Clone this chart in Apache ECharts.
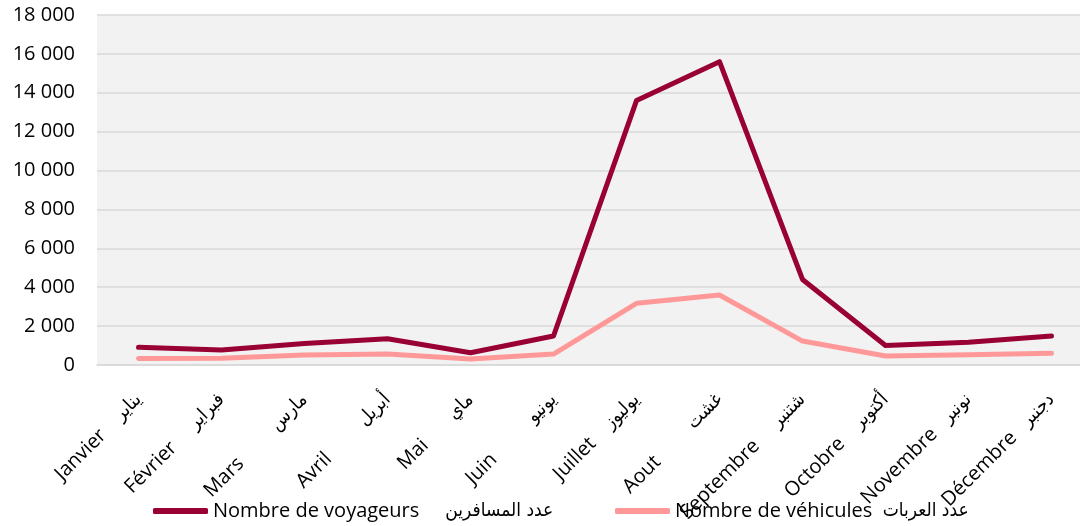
<!DOCTYPE html>
<html>
<head>
<meta charset="utf-8">
<script src="https://cdn.jsdelivr.net/npm/echarts@6/dist/echarts.min.js"></script>
<style>
  html, body { margin: 0; padding: 0; background: #fff; }
  #chart { width: 1080px; height: 526px; }
</style>
</head>
<body>
<div id="chart"></div>
<script>
// mois (français + arabe), les espaces reproduisent l'écart du libellé d'origine
const categories = [
  'Janvier    يناير',
  'Février     فبراير',
  'Mars         مارس',
  'Avril         أبريل',
  'Mai       ماي',
  'Juin          يونيو',
  'Juillet    يوليوز',
  'Aout         غشت',
  'Septembre     شتنبر',
  'Octobre    أكتوبر',
  'Novembre   نونبر',
  'Décembre   دجنبر'
];
const voyageurs = [910, 770, 1100, 1350, 630, 1490, 13600, 15600, 4400, 1000, 1170, 1490];
const vehicules = [340, 350, 510, 560, 310, 560, 3170, 3600, 1230, 460, 530, 600];
const nomVoyageurs = 'Nombre de voyageurs     عدد المسافرين';
const nomVehicules = 'Nombre de véhicules  عدد العربات';

const font = '"Open Sans", "DejaVu Sans", sans-serif';
const fontAr = '"DejaVu Sans Condensed", "DejaVu Sans", sans-serif';

// partie française / partie arabe en rich text
function bilingue(v) {
  return v.replace(/^([^\u0600-\u06FF]*?)(\s+)([\u0600-\u06FF].*)$/, function (m, fr, sp, ar) {
    return '{fr|' + fr + '}{fr|' + sp + '}{ar|' + ar + '}';
  });
}
const rich = {
  fr: { fontFamily: font, fontSize: 20, color: '#000' },
  ar: { fontFamily: fontAr, fontSize: 19, color: '#000' }
};

const chart = echarts.init(document.getElementById('chart'));

const option = {
  animation: false,
  grid: {
    left: 97,
    top: 15,
    width: 996,
    height: 350,
    outerBoundsMode: 'none',
    containLabel: false,
    show: true,
    backgroundColor: '#f2f2f2',
    borderWidth: 0
  },
  legend: [
    {
      data: [nomVoyageurs],
      left: 148,
      top: 496,
      icon: 'roundRect',
      itemWidth: 55,
      itemHeight: 6,
      itemGap: 5,
      formatter: bilingue,
      textStyle: { fontFamily: font, fontSize: 20, color: '#000', rich: rich }
    },
    {
      data: [nomVehicules],
      left: 610,
      top: 496,
      icon: 'roundRect',
      itemWidth: 55,
      itemHeight: 6,
      itemGap: 5,
      formatter: bilingue,
      textStyle: { fontFamily: font, fontSize: 20, color: '#000', rich: rich }
    }
  ],
  xAxis: {
    type: 'category',
    data: categories,
    boundaryGap: true,
    axisLine: { lineStyle: { color: '#d9d9d9', width: 1.5 } },
    axisTick: { show: false },
    axisLabel: {
      rotate: 45,
      interval: 0,
      margin: 32,
      fontFamily: font,
      fontSize: 20,
      color: '#000',
      formatter: bilingue,
      rich: rich
    }
  },
  yAxis: {
    type: 'value',
    min: 0,
    max: 18000,
    interval: 2000,
    axisLine: { show: false },
    axisTick: { show: false },
    splitLine: { lineStyle: { color: '#d9d9d9', width: 1.5 } },
    axisLabel: {
      margin: 22,
      fontFamily: font,
      fontSize: 20,
      color: '#000',
      formatter: function (v) {
        return String(v).replace(/\B(?=(\d{3})+(?!\d))/g, ' ');
      }
    }
  },
  series: [
    {
      name: nomVoyageurs,
      type: 'line',
      data: voyageurs,
      showSymbol: false,
      itemStyle: { color: '#990033' },
      lineStyle: { color: '#990033', width: 5, cap: 'round', join: 'round' },
      z: 3
    },
    {
      name: nomVehicules,
      type: 'line',
      data: vehicules,
      showSymbol: false,
      itemStyle: { color: '#ff9999' },
      lineStyle: { color: '#ff9999', width: 5, cap: 'round', join: 'round' },
      z: 2
    }
  ]
};

chart.setOption(option);
</script>
</body>
</html>
